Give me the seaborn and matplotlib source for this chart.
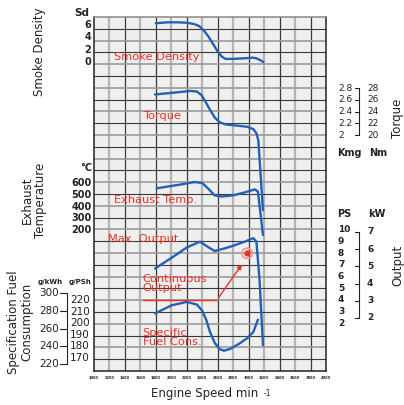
import matplotlib
matplotlib.use("Agg")
import matplotlib.pyplot as plt
import seaborn as sns
from matplotlib.transforms import blended_transform_factory as btf

# ---------------- data ----------------
rpm_ticks = [1000, 1200, 1400, 1600, 1800, 2000, 2200, 2400, 2600, 2800,
             3000, 3200, 3400, 3600, 3800, 4000]

smoke_rpm = [1800, 1950, 2100, 2220, 2300, 2360, 2420, 2480, 2540, 2600, 2650,
             2700, 2800, 2950, 3050, 3100, 3150, 3190]
smoke_sd = [6.25, 6.4, 6.4, 6.3, 6.1, 5.8, 5.1, 4.1, 2.9, 1.7, 0.9,
            0.5, 0.5, 0.6, 0.7, 0.6, 0.3, 0.0]

torque_rpm = [1790, 2025, 2250, 2330, 2390, 2440, 2500, 2560, 2620, 2700,
              2850, 2980, 3060, 3100, 3125, 3185]
torque_kgm = [2.69, 2.72, 2.75, 2.74, 2.68, 2.57, 2.43, 2.3, 2.22, 2.18,
              2.16, 2.14, 2.1, 2.03, 1.91, 0.72]

exhaust_rpm = [1810, 2100, 2300, 2400, 2480, 2560, 2650, 2800, 2950, 3080, 3120, 3185]
exhaust_c = [555, 585, 608, 600, 550, 495, 485, 495, 520, 546, 526, 157]

output_rpm = [1790, 2000, 2200, 2370, 2460, 2560, 2680, 2800, 2950, 3060, 3100, 3140, 3185]
output_ps = [6.7, 7.6, 8.5, 9.0, 8.6, 8.2, 8.4, 8.65, 9.0, 9.3, 9.0, 5.8, 0.1]

fuel_rpm = [1790, 2000, 2200, 2330, 2400, 2450, 2500, 2560, 2620, 2680,
            2760, 2880, 2980, 3060, 3120]
fuel_gkwh = [277, 286, 290, 287, 280, 270, 256, 244, 237, 235,
             237, 243, 249, 256, 270]

cont_rpm = [2980]
cont_ps = [8.0]

smoke_labels = [0, 2, 4, 6]
temp_labels = [200, 300, 400, 500, 600]
kgm_labels = [2.0, 2.2, 2.4, 2.6, 2.8]
nm_labels = [20, 22, 24, 26, 28]
ps_labels = [2, 3, 4, 5, 6, 7, 8, 9, 10]
kw_labels = [2, 3, 4, 5, 6, 7]
gkwh_labels = [220, 240, 260, 280, 300]
gpsh_labels = [170, 180, 190, 200, 210, 220]

# ---------------- style ----------------
sns.set_style("white")
plt.rcParams["font.family"] = ["DejaVu Sans"]
BLUE = "#2361b6"
RED = "#ee2f23"
TXT = "#222222"

W, H = 404, 405
fig = plt.figure(figsize=(W / 100, H / 100), dpi=100)
L, R, T, B = 94, 326, 17, 371
ax = fig.add_axes([L / W, (H - B) / H, (R - L) / W, (B - T) / H])
ax.set_xlim(1000, 4000)
ax.set_ylim(0, 30)
ax.set_facecolor("#efefef")
for i, x in enumerate(rpm_ticks[1:-1]):
    if i % 2 == 0:
        ax.axvline(x, color="#b4b4b4", lw=1.6, zorder=1)
    else:
        ax.axvline(x, color="#3a3a3a", lw=0.9, zorder=1)
for r in range(1, 30):
    if r % 2 == 0:
        ax.axhline(r, color="#9a9a9a", lw=1.2, zorder=1)
    else:
        ax.axhline(r, color="#3a3a3a", lw=0.8, zorder=1)
for s in ax.spines.values():
    s.set_color("#222222")
    s.set_linewidth(1.1)
ax.spines["top"].set_color("#888888")
ax.set_yticks([])
ax.set_xticks(rpm_ticks)
ax.set_xticklabels([str(v) for v in rpm_ticks], fontsize=2.6, fontweight="bold", color=TXT)
ax.tick_params(axis="x", length=0, pad=3.5)


def px_to_frac(py):
    return (H - py) / H


def twin(bottom_val, top_val):
    t = ax.twinx()
    t.set_ylim(bottom_val, top_val)
    t.axis("off")
    t.patch.set_visible(False)
    return t


# scale axes (value at plot bottom, value at plot top)
ax_sd = twin((62 - 371) / 6.2, (62 - 17) / 6.2)
ax_tq = twin(2 + (135 - 371) / 58.75, 2 + (135 - 17) / 58.75)
ax_tc = twin(200 - 141 / 0.1175, 200 + 213 / 0.1175)
ax_ps = twin(10 - 141 / 11.65, 10 + 213 / 11.65)
ax_kw = twin(7 - 139 / 17.2, 7 + 215 / 17.2)
ax_fk = twin(300 - 78 / 0.8875, 300 + 276 / 0.8875)
ax_fp = twin(220 - 71 / 1.16, 220 + 283 / 1.16)

kw = dict(color=BLUE, lw=1.7, estimator=None, sort=False, legend=False)
sns.lineplot(x=smoke_rpm, y=smoke_sd, ax=ax_sd, **kw)
sns.lineplot(x=torque_rpm, y=torque_kgm, ax=ax_tq, **kw)
sns.lineplot(x=exhaust_rpm, y=exhaust_c, ax=ax_tc, **kw)
sns.lineplot(x=output_rpm, y=output_ps, ax=ax_ps, **kw)
sns.lineplot(x=fuel_rpm, y=fuel_gkwh, ax=ax_fk, **kw)
for a in [ax_sd, ax_tq, ax_tc, ax_ps, ax_fk]:
    a.set_xlim(1000, 4000)
    a.axis("off")

# continuous output marker and arrow
ax_ps.scatter(cont_rpm, cont_ps, s=55, facecolor="none", edgecolor="#f29a8e", lw=1.2, zorder=6)
ax_ps.scatter(cont_rpm, cont_ps, s=12, color=RED, zorder=7)
ax_ps.plot([1640, 2590], [4.0, 4.0], color=RED, lw=1.0)
ax_ps.annotate("", xy=(2935, 7.25), xytext=(2590, 4.0),
               arrowprops=dict(arrowstyle="-|>", color=RED, lw=1.0, mutation_scale=7))

# red curve names (main axis coordinates)
lab = dict(color=RED, fontsize=8.2, ha="left", va="center", zorder=8)
ax.text(1255, 26.6, "Smoke Density", **lab)
ax.text(1630, 21.6, "Torque", **lab)
ax.text(1265, 14.5, "Exhaust Temp.", **lab)
ax.text(1175, 11.2, "Max. Output", **lab)
ax.text(1630, 7.4, "Continuous\nOutput", linespacing=0.95, **lab)
ax.text(1630, 2.85, "Specific\nFuel Cons.", linespacing=0.95, **lab)

# ---------------- left scales ----------------
fx = lambda px: px / W
num = dict(fontsize=7, color=TXT, fontweight="bold", va="center")
tr = btf(fig.transFigure, ax_sd.transData)
for v in smoke_labels:
    fig.text(fx(91), v, str(v), transform=tr, ha="right", **num)
fig.text(fx(82), px_to_frac(13), "Sd", fontsize=7.5, fontweight="bold", color=TXT, ha="center", va="center")

tr = btf(fig.transFigure, ax_tc.transData)
for v in temp_labels:
    fig.text(fx(92), v, str(v), transform=tr, ha="right", **num)
fig.text(fx(86), px_to_frac(168), "°C", fontsize=7, fontweight="bold", color=TXT, ha="center", va="center")

tr = btf(fig.transFigure, ax_fk.transData)
for v in gkwh_labels:
    fig.text(fx(59), v, str(v), transform=tr, ha="right", fontsize=7.5, color=TXT, va="center")
    ax_fk.plot([fx(60), fx(66.5)], [v, v], transform=tr, color=TXT, lw=0.8, clip_on=False)
ax_fk.plot([fx(66.5), fx(66.5)], [220, 300], transform=tr, color=TXT, lw=0.8, clip_on=False)
tr = btf(fig.transFigure, ax_fp.transData)
for v in gpsh_labels:
    fig.text(fx(70), v, str(v), transform=tr, ha="left", fontsize=7.5, color=TXT, va="center")
fig.text(fx(50), px_to_frac(282), "g/kWh", fontsize=5, fontweight="bold", color=TXT, ha="center", va="center")
fig.text(fx(80), px_to_frac(282), "g/PSh", fontsize=5, fontweight="bold", color=TXT, ha="center", va="center")

title = dict(fontsize=8.5, color=TXT, rotation=90, ha="center", va="center")
fig.text(fx(40), px_to_frac(52), "Smoke Density", **title)
fig.text(fx(34), px_to_frac(200), "Exhaust\nTemperature", linespacing=1.0, **title)
fig.text(fx(20), px_to_frac(322), "Specification Fuel\nConsumption", linespacing=1.0, **title)

# ---------------- right scales ----------------
tr = btf(fig.transFigure, ax_tq.transData)
for v in kgm_labels:
    fig.text(fx(338), v, f"{v:g}", transform=tr, ha="left", fontsize=6.5, color=TXT, va="center")
    ax_tq.plot([fx(355), fx(359)], [v, v], transform=tr, color=TXT, lw=0.8, clip_on=False)
for v in nm_labels:
    fig.text(fx(367), v / 10, str(v), transform=tr, ha="left", fontsize=6.5, color=TXT, va="center")
ax_tq.plot([fx(359), fx(359)], [2.0, 2.8], transform=tr, color=TXT, lw=0.8, clip_on=False)
fig.text(fx(337), px_to_frac(153), "Kmg", fontsize=7, fontweight="bold", color=TXT, ha="left", va="center")
fig.text(fx(369), px_to_frac(153), "Nm", fontsize=7, fontweight="bold", color=TXT, ha="left", va="center")
fig.text(fx(398), px_to_frac(118), "Torque", **title)

tr = btf(fig.transFigure, ax_ps.transData)
for v in ps_labels:
    fig.text(fx(338), v, str(v), transform=tr, ha="left", fontsize=6.5, fontweight="bold", color=TXT, va="center")
tr = btf(fig.transFigure, ax_kw.transData)
for v in kw_labels:
    fig.text(fx(367), v, str(v), transform=tr, ha="left", fontsize=6.5, fontweight="bold", color=TXT, va="center")
    ax_kw.plot([fx(355), fx(359)], [v, v], transform=tr, color=TXT, lw=0.8, clip_on=False)
ax_kw.plot([fx(359), fx(359)], [2, 7], transform=tr, color=TXT, lw=0.8, clip_on=False)
fig.text(fx(344), px_to_frac(214), "PS", fontsize=7, fontweight="bold", color=TXT, ha="center", va="center")
fig.text(fx(377), px_to_frac(214), "kW", fontsize=7, fontweight="bold", color=TXT, ha="center", va="center")
fig.text(fx(398), px_to_frac(265), "Output", **title)

# x axis title
fig.text(fx(205), px_to_frac(393), "Engine Speed min", fontsize=8.5, color=TXT, ha="center", va="center")
fig.text(fx(264), px_to_frac(394), "-1", fontsize=5.5, color=TXT, ha="left", va="center")

fig.savefig("out.png", dpi=100)
